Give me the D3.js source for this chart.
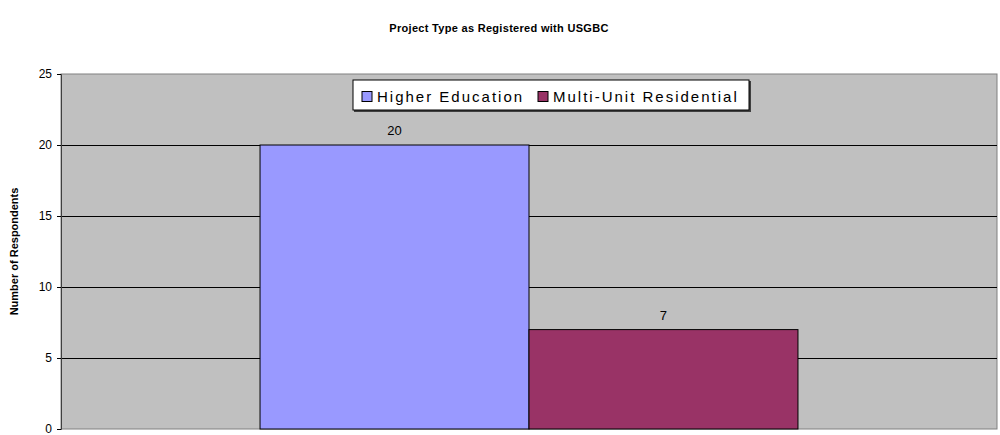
<!DOCTYPE html>
<html>
<head>
<meta charset="utf-8">
<script src="https://cdn.jsdelivr.net/npm/d3@7"></script>
<style>
  body { margin: 0; background: #fff; }
  .chart { width: 1000px; height: 435px; }
  text { font-family: Arial, "Liberation Sans", sans-serif; }
</style>
</head>
<body>
<div class="chart"></div>
<script>
// data
const categories = ["Project Type"];
const seriesNames = ["Higher Education", "Multi-Unit Residential"];
const seriesValues = [20, 7];
const seriesColors = ["#9999FF", "#993366"];
const yTicks = [0, 5, 10, 15, 20, 25];

function init() {
    let margin = { top: 74, right: 3, bottom: 6, left: 61 };
    let width = 1000 - margin.left - margin.right;
    let height = 435 - margin.top - margin.bottom;

    let svg = d3.select(".chart").append("svg")
        .attr("width", 1000)
        .attr("height", 435);

    //title
    svg.append("text")
        .attr("x", 499)
        .attr("y", 32)
        .attr("text-anchor", "middle")
        .style("font-size", "11px")
        .style("font-weight", "bold")
        .style("letter-spacing", "0.3px")
        .text("Project Type as Registered with USGBC");

    //y axis title
    svg.append("text")
        .attr("transform", `translate(18,${margin.top + height / 2}) rotate(-90)`)
        .attr("text-anchor", "middle")
        .style("font-size", "11px")
        .style("font-weight", "bold")
        .text("Number of Respondents");

    let plot = svg.append("g").attr("transform", `translate(${margin.left},${margin.top})`);

    let yScale = d3.scaleLinear().domain([0, 25]).range([height, 0]);

    let xScale = d3.scaleBand().domain(categories).range([0, width])
        .paddingInner(0).paddingOuter(0.37);
    let xSub = d3.scaleBand().domain(seriesNames).range([0, xScale.bandwidth()]);

    //plot background
    plot.append("rect")
        .attr("width", width)
        .attr("height", height)
        .attr("fill", "#C0C0C0")
        .attr("stroke", "#808080")
        .attr("stroke-width", 1);

    //gridlines
    plot.append("g")
        .selectAll("line")
        .data(yTicks.filter(d => d > 0 && d < 25))
        .join("line")
        .attr("x1", 0).attr("x2", width)
        .attr("y1", d => Math.round(yScale(d)) + 0.5)
        .attr("y2", d => Math.round(yScale(d)) + 0.5)
        .attr("stroke", "#000")
        .attr("stroke-width", 1);

    //bars
    let group = plot.append("g").attr("transform", `translate(${xScale(categories[0])},0)`);
    group.selectAll("rect")
        .data(seriesValues)
        .join("rect")
        .attr("x", (d, i) => xSub(seriesNames[i]))
        .attr("y", d => yScale(d))
        .attr("width", xSub.bandwidth())
        .attr("height", d => height - yScale(d))
        .attr("fill", (d, i) => seriesColors[i])
        .attr("stroke", "#000")
        .attr("stroke-width", 1);

    group.selectAll("text.val")
        .data(seriesValues)
        .join("text")
        .attr("class", "val")
        .attr("x", (d, i) => xSub(seriesNames[i]) + xSub.bandwidth() / 2)
        .attr("y", d => yScale(d) - 10)
        .attr("text-anchor", "middle")
        .style("font-size", "13px")
        .text(d => d);

    //y axis
    let yAxis = plot.append("g")
        .call(d3.axisLeft(yScale).tickValues(yTicks).tickSize(4).tickPadding(5));
    yAxis.select(".domain").attr("stroke", "#404040");
    yAxis.selectAll("text").style("font-size", "12px").attr("fill", "#000");

    //legend
    let legend = svg.append("g").attr("transform", "translate(353,80)");
    legend.append("rect")
        .attr("x", 1).attr("y", 1)
        .attr("width", 397).attr("height", 31)
        .attr("fill", "#404040");
    legend.append("rect")
        .attr("width", 396).attr("height", 30)
        .attr("fill", "#fff")
        .attr("stroke", "#000");
    let offsets = [9, 185];
    seriesNames.forEach((name, i) => {
        legend.append("rect")
            .attr("x", offsets[i]).attr("y", 11.5)
            .attr("width", 10).attr("height", 10)
            .attr("fill", seriesColors[i])
            .attr("stroke", "#000");
        legend.append("text")
            .attr("x", offsets[i] + 15).attr("y", 21.5)
            .style("font-size", "15px")
            .style("letter-spacing", "2px")
            .text(name);
    });
}

init();
</script>
</body>
</html>
